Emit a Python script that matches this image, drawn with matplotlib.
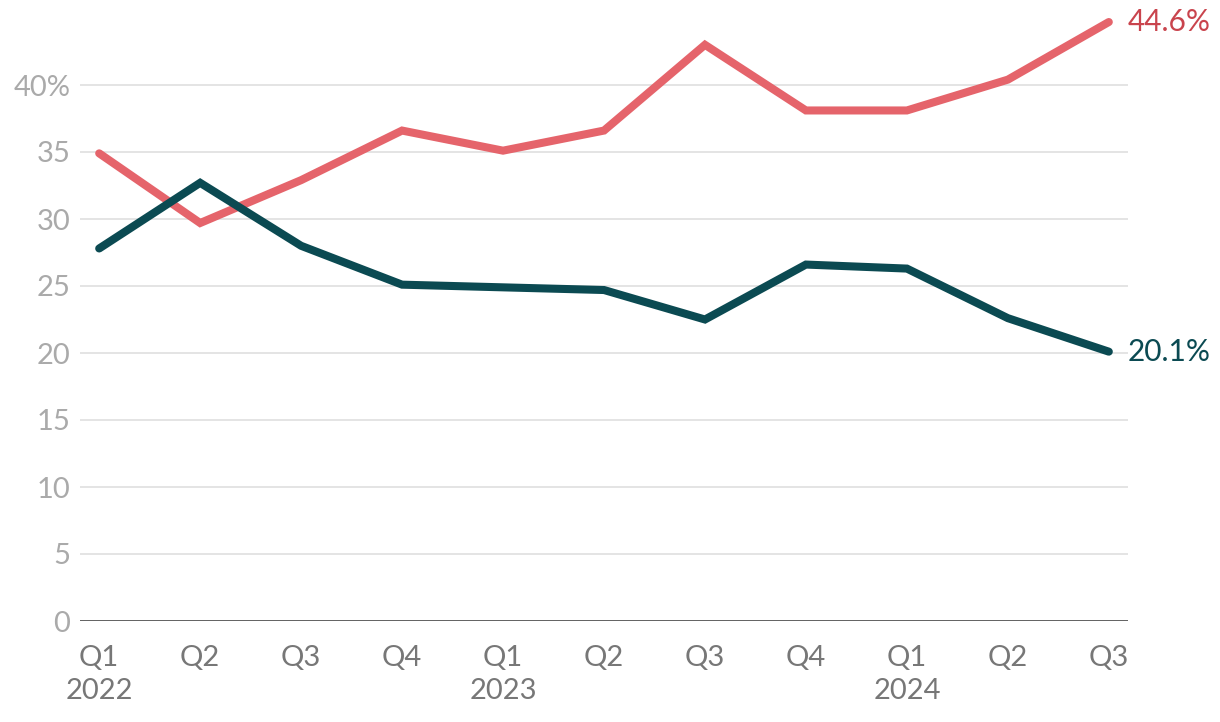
import matplotlib
matplotlib.use("Agg")
from matplotlib import pyplot as plt

quarters = ["Q1\n2022", "Q2", "Q3", "Q4", "Q1\n2023", "Q2", "Q3", "Q4", "Q1\n2024", "Q2", "Q3"]
red_values = [34.9, 29.7, 32.9, 36.6, 35.1, 36.6, 43.0, 38.1, 38.1, 40.4, 44.7]
teal_values = [27.8, 32.7, 28.0, 25.1, 24.9, 24.7, 22.5, 26.6, 26.3, 22.6, 20.1]
end_labels = ["44.6%", "20.1%"]
y_ticks = [0, 5, 10, 15, 20, 25, 30, 35, 40]
y_labels = ["0", "5", "10", "15", "20", "25", "30", "35", "40%"]

red = "#e5646b"
red_text = "#c9444d"
teal = "#0b4a52"

plt.rcParams["font.family"] = ["Lato", "DejaVu Sans"]

fig = plt.figure(figsize=(12.2, 7.22), dpi=100)
ax = fig.add_axes([80 / 1220, 1 - 621 / 722, 1048 / 1220, (621 - 18) / 722])

x = list(range(len(quarters)))
ax.plot(x, red_values, color=red, lw=5.8, solid_capstyle="round", solid_joinstyle="miter", clip_on=False, zorder=3)
ax.plot(x, teal_values, color=teal, lw=5.8, solid_capstyle="round", solid_joinstyle="miter", clip_on=False, zorder=3)

ax.text(x[-1] + 0.19, red_values[-1], end_labels[0], color=red_text, fontsize=21.5, va="center", ha="left")
ax.text(x[-1] + 0.19, teal_values[-1], end_labels[1], color=teal, fontsize=21.5, va="center", ha="left")

ax.set_xlim(-0.19, len(quarters) - 1 + 0.19)
ax.set_ylim(0, 45)
ax.set_yticks(y_ticks)
ax.set_yticklabels(y_labels)
ax.set_xticks(x)
ax.set_xticklabels(quarters)

for t in y_ticks[1:]:
    ax.axhline(t, color="#e2e2e2", lw=1.3, zorder=1)
ax.axhline(0, color="#333333", lw=1.8, zorder=2)

for s in ax.spines.values():
    s.set_visible(False)
ax.tick_params(axis="both", length=0)
ax.tick_params(axis="y", colors="#aaaaaa", labelsize=21, pad=7)
ax.tick_params(axis="x", colors="#777777", labelsize=21, pad=17)
for lbl in ax.get_yticklabels():
    lbl.set_color("#aaaaaa")
for lbl in ax.get_xticklabels():
    lbl.set_color("#777777")
    lbl.set_linespacing(1.35)
    lbl.set_verticalalignment("top")

fig.savefig("out.png", dpi=100)
